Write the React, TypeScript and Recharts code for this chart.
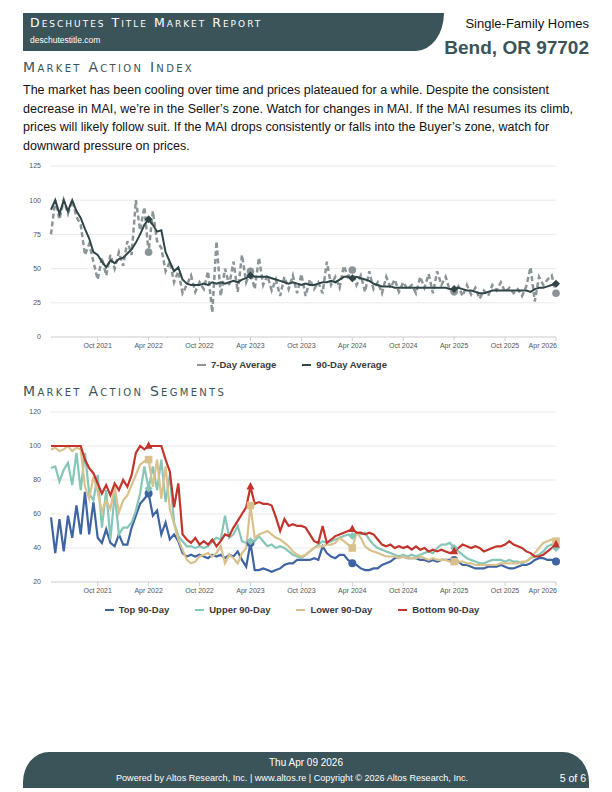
import React from 'react';
import { LineChart, Line, XAxis, YAxis, CartesianGrid } from 'recharts';

// Time axis: months after Apr 1 2021, one point every half month
const START = 0.5;
const STEP = 0.5;

const tickMonths = [6, 12, 18, 24, 30, 36, 42, 48, 54, 60];
const tickLabels = ['Oct 2021', 'Apr 2022', 'Oct 2022', 'Apr 2023', 'Oct 2023', 'Apr 2024', 'Oct 2024', 'Apr 2025', 'Oct 2025', 'Apr 2026'];
const markerIdx = [23, 47, 71, 95, 119];

const maiTicks = [0, 25, 50, 75, 100, 125];
const segTicks = [20, 40, 60, 80, 100, 120];

// Market Action Index
const sevenDay = [
  75, 100, 86, 100, 90, 100, 88, 82, 60, 68, 55, 42, 58, 45, 60, 50, 62, 52, 70, 60,
  100, 78, 95, 62, 92, 70, 65, 48, 55, 40, 48, 32, 38, 45, 33, 40, 35, 48, 18, 70,
  30, 50, 38, 55, 33, 60, 40, 48, 35, 58, 38, 45, 34, 42, 30, 44, 35, 45, 32, 46,
  30, 42, 35, 40, 32, 55, 38, 44, 36, 52, 44, 49, 38, 45, 33, 48, 35, 40, 32, 44,
  36, 42, 33, 40, 35, 38, 32, 44, 36, 46, 32, 48, 38, 44, 34, 33, 37, 30, 38, 31,
  36, 28, 34, 30, 38, 34, 40, 33, 36, 32, 35, 30, 37, 51, 26, 44, 38, 42, 45, 32,
];
const ninetyDay = [
  93, 100, 90, 100, 92, 100, 92, 87, 79, 72, 62, 60, 55, 51, 56, 54, 57, 58, 61, 64,
  69, 75, 82, 86, 82, 77, 78, 62, 55, 48, 51, 42, 39, 38, 38, 38, 39, 38, 40, 39,
  40, 39, 40, 41, 40, 42, 43, 45, 44, 44, 44, 44, 43, 42, 41, 40, 39, 40, 39, 38,
  39, 38, 38, 39, 40, 40, 41, 40, 42, 44, 44, 43, 44, 43, 42, 41, 39, 38, 37, 37,
  37, 36, 36, 36, 36, 36, 36, 36, 36, 36, 36, 36, 36, 36, 35, 35, 36, 35, 34, 34,
  33, 32, 32, 33, 34, 34, 34, 34, 34, 34, 34, 34, 34, 33, 35, 36, 36, 37, 38, 39,
];

// Market Action Segments
const top90 = [
  58, 37, 57, 38, 59, 46, 65, 48, 73, 48, 67, 46, 43, 51, 43, 41, 48, 42, 42, 52,
  59, 66, 69, 72, 59, 62, 48, 55, 45, 48, 44, 37, 35, 36, 35, 36, 35, 34, 36, 35,
  36, 34, 36, 35, 38, 33, 29, 43, 27, 27, 28, 27, 26, 27, 28, 30, 31, 31, 33, 33,
  33, 33, 34, 33, 41, 37, 35, 34, 36, 36, 33, 31, 30, 28, 27, 27, 28, 28, 30, 31,
  32, 34, 35, 35, 34, 34, 34, 33, 33, 32, 33, 32, 33, 33, 33, 33, 32, 30, 30, 29,
  28, 28, 28, 29, 29, 29, 30, 29, 28, 28, 29, 30, 30, 31, 33, 34, 34, 33, 33, 32,
];
const upper90 = [
  87, 88, 79, 86, 90, 77, 96, 74, 96, 72, 68, 83, 52, 74, 45, 72, 48, 52, 52, 55,
  62, 72, 88, 75, 88, 74, 92, 67, 83, 55, 47, 44, 41, 41, 40, 41, 40, 41, 44, 46,
  45, 59, 46, 48, 53, 44, 43, 44, 44, 47, 44, 41, 42, 40, 41, 40, 38, 36, 35, 34,
  36, 38, 40, 42, 44, 43, 44, 45, 46, 47, 48, 47, 49, 48, 49, 45, 42, 40, 39, 38,
  37, 36, 35, 36, 35, 36, 35, 36, 37, 38, 37, 40, 42, 42, 43, 40, 38, 36, 34, 33,
  32, 31, 31, 32, 33, 33, 33, 32, 33, 32, 32, 31, 32, 34, 35, 36, 38, 41, 42, 40,
];
const lower90 = [
  98, 99, 97, 98, 100, 97, 99, 98, 76, 69, 82, 73, 61, 68, 63, 76, 61, 68, 71, 77,
  83, 89, 91, 92, 76, 92, 69, 88, 63, 54, 45, 39, 33, 31, 32, 35, 36, 37, 35, 37,
  41, 31, 36, 34, 31, 37, 40, 65, 46, 48, 49, 50, 48, 46, 45, 43, 41, 38, 36, 35,
  36, 38, 40, 41, 41, 42, 42, 43, 46, 44, 42, 40, 49, 46, 41, 39, 38, 37, 36, 35,
  35, 35, 34, 35, 34, 34, 34, 35, 34, 33, 34, 33, 33, 33, 32, 32, 32, 32, 31, 31,
  30, 30, 30, 30, 30, 30, 31, 31, 31, 31, 31, 32, 32, 34, 37, 40, 43, 44, 45, 44,
];
const bottom90 = [
  100, 100, 100, 100, 100, 100, 100, 100, 92, 87, 84, 78, 72, 77, 71, 78, 74, 80, 76, 83,
  96, 100, 98, 100, 100, 100, 100, 92, 85, 64, 78, 48, 45, 43, 46, 42, 44, 42, 45, 41,
  44, 48, 47, 52, 56, 60, 64, 76, 66, 67, 66, 66, 65, 58, 50, 57, 53, 54, 53, 53,
  52, 48, 44, 43, 53, 43, 45, 47, 48, 49, 50, 51, 49, 49, 48, 49, 48, 45, 42, 41,
  42, 40, 41, 40, 41, 39, 41, 39, 40, 38, 39, 38, 39, 38, 37, 38, 40, 42, 41, 40,
  41, 40, 38, 39, 40, 41, 41, 42, 44, 42, 41, 40, 38, 37, 35, 35, 36, 38, 40, 42,
];

const maiData = sevenDay.map((v, i) => ({ m: START + i * STEP, seven: v, ninety: ninetyDay[i] }));
const segData = top90.map((v, i) => ({
  m: START + i * STEP,
  top: v,
  upper: upper90[i],
  lower: lower90[i],
  bottom: bottom90[i],
}));

const TEAL = '#3b545a';
const C_SEVEN = '#8b9597';
const C_NINETY = '#2f4548';
const C_TOP = '#3f64a3';
const C_UPPER = '#86c6b9';
const C_LOWER = '#d9c18d';
const C_BOTTOM = '#c3342c';

const XTick = (props: any) => {
  const { x, y, payload, index } = props;
  const last = index === tickMonths.length - 1;
  return (
    <text
      x={last ? x + 1 : x}
      y={y}
      dy="0.71em"
      textAnchor={last ? 'end' : 'middle'}
      fontSize={7}
      fill="#555"
      fontFamily="Liberation Sans, Arial, sans-serif"
    >
      {tickLabels[tickMonths.indexOf(payload.value)]}
    </text>
  );
};

type Shape = 'circle' | 'diamond' | 'square' | 'triangle';

const markerDot = (shape: Shape, color: string, size: number) => (props: any) => {
  const { cx, cy, index } = props;
  if (!markerIdx.includes(index) || cx == null || cy == null) return <g key={`n${index}`} />;
  const s = size;
  if (shape === 'circle') return <circle key={`c${index}`} cx={cx} cy={cy} r={s} fill={color} />;
  if (shape === 'square')
    return <rect key={`s${index}`} x={cx - s} y={cy - s} width={s * 2} height={s * 2} fill={color} />;
  if (shape === 'triangle')
    return (
      <polygon
        key={`t${index}`}
        points={`${cx},${cy - s * 1.2} ${cx + s},${cy + s * 0.7} ${cx - s},${cy + s * 0.7}`}
        fill={color}
      />
    );
  return (
    <polygon
      key={`d${index}`}
      points={`${cx},${cy - s} ${cx + s},${cy} ${cx},${cy + s} ${cx - s},${cy}`}
      fill={color}
    />
  );
};

const xAxisProps = {
  dataKey: 'm',
  type: 'number' as const,
  domain: [0.5, 60],
  ticks: tickMonths,
  tick: <XTick />,
  tickLine: { stroke: '#cfcfcf' },
  tickSize: 4,
  axisLine: { stroke: '#d6d6d6' },
  height: 20,
  interval: 0 as const,
};

const yTick = { fontSize: 7, fill: '#555', fontFamily: 'Liberation Sans, Arial, sans-serif' };

const smallCaps: React.CSSProperties = {
  fontFamily: 'DejaVu Sans, sans-serif',
  fontVariant: 'small-caps',
  whiteSpace: 'nowrap',
};

const LegendRow = ({ items, top }: { items: { label: string; color: string }[]; top: number }) => (
  <div
    style={{
      position: 'absolute',
      top,
      left: 0,
      width: 584,
      display: 'flex',
      justifyContent: 'center',
      gap: 26,
      fontSize: 9.5,
      fontWeight: 'bold',
      color: '#3a3a3a',
    }}
  >
    {items.map((it) => (
      <div key={it.label} style={{ display: 'flex', alignItems: 'center' }}>
        <span style={{ display: 'inline-block', width: 9, height: 2, background: it.color, marginRight: 5 }} />
        {it.label}
      </div>
    ))}
  </div>
);

export default function App() {
  const paraLines = [
    'The market has been cooling over time and prices plateaued for a while. Despite the consistent',
    'decrease in MAI, we\u2019re in the Seller\u2019s zone. Watch for changes in MAI. If the MAI resumes its climb,',
    'prices will likely follow suit. If the MAI drops consistently or falls into the Buyer\u2019s zone, watch for',
    'downward pressure on prices.',
  ];
  return (
    <div
      style={{
        position: 'absolute',
        top: 0,
        left: 0,
        width: 612,
        height: 792,
        background: '#fff',
        fontFamily: 'Liberation Sans, Arial, sans-serif',
        overflow: 'hidden',
      }}
    >
      {/* header banner */}
      <div
        style={{
          position: 'absolute',
          top: 13,
          left: 23,
          width: 421,
          height: 38,
          background: TEAL,
          borderBottomRightRadius: '28px 38px',
        }}
      />
      <div style={{ ...smallCaps, position: 'absolute', top: 15, left: 30, color: '#fff', fontSize: 12.5, letterSpacing: '2px' }}>
        Deschutes Title Market Report
      </div>
      <div style={{ position: 'absolute', top: 35, left: 30, color: '#fff', fontSize: 8.5 }}>deschutestitle.com</div>
      <div style={{ position: 'absolute', top: 16, right: 23, fontSize: 13, color: '#111' }}>Single-Family Homes</div>
      <div style={{ position: 'absolute', top: 37, right: 23, fontSize: 19, fontWeight: 'bold', color: TEAL }}>
        Bend, OR 97702
      </div>

      <div style={{ ...smallCaps, position: 'absolute', top: 59, left: 23, color: TEAL, fontSize: 14, letterSpacing: '2.3px' }}>
        Market Action Index
      </div>
      <div style={{ position: 'absolute', top: 81, left: 23, fontSize: 12.5, lineHeight: '18.7px', color: '#111' }}>
        {paraLines.map((l) => (
          <div key={l} style={{ whiteSpace: 'nowrap' }}>
            {l}
          </div>
        ))}
      </div>

      {/* Market Action Index chart */}
      <div style={{ position: 'absolute', top: 150, left: 0 }}>
        <LineChart width={612} height={207} data={maiData} margin={{ top: 16, right: 56, left: 1, bottom: 0 }}>
          <CartesianGrid vertical={false} stroke="#e9e9e9" />
          <XAxis {...xAxisProps} />
          <YAxis
            domain={[0, 125]}
            ticks={maiTicks}
            width={50}
            axisLine={false}
            tickLine={false}
            tickMargin={4}
            tick={yTick}
            interval={0}
          />
          <Line
            dataKey="seven"
            stroke={C_SEVEN}
            strokeWidth={2.5}
            strokeDasharray="5 3"
            dot={markerDot('circle', C_SEVEN, 3.8)}
            activeDot={false}
            isAnimationActive={false}
          />
          <Line
            dataKey="ninety"
            stroke={C_NINETY}
            strokeWidth={2}
            dot={markerDot('diamond', C_NINETY, 4)}
            activeDot={false}
            isAnimationActive={false}
          />
        </LineChart>
      </div>
      <LegendRow
        top={359}
        items={[
          { label: '7-Day Average', color: C_SEVEN },
          { label: '90-Day Average', color: C_NINETY },
        ]}
      />

      <div style={{ ...smallCaps, position: 'absolute', top: 383, left: 23, color: TEAL, fontSize: 14, letterSpacing: '2.3px' }}>
        Market Action Segments
      </div>

      {/* Market Action Segments chart */}
      <div style={{ position: 'absolute', top: 396, left: 0 }}>
        <LineChart width={612} height={206} data={segData} margin={{ top: 16, right: 56, left: 1, bottom: 0 }}>
          <CartesianGrid vertical={false} stroke="#e9e9e9" />
          <XAxis {...xAxisProps} />
          <YAxis
            domain={[20, 120]}
            ticks={segTicks}
            width={50}
            axisLine={false}
            tickLine={false}
            tickMargin={4}
            tick={yTick}
            interval={0}
          />
          <Line dataKey="top" stroke={C_TOP} strokeWidth={2.2} dot={markerDot('circle', C_TOP, 4)} activeDot={false} isAnimationActive={false} />
          <Line dataKey="upper" stroke={C_UPPER} strokeWidth={2.2} dot={markerDot('diamond', C_UPPER, 4)} activeDot={false} isAnimationActive={false} />
          <Line dataKey="lower" stroke={C_LOWER} strokeWidth={2.2} dot={markerDot('square', C_LOWER, 3.8)} activeDot={false} isAnimationActive={false} />
          <Line dataKey="bottom" stroke={C_BOTTOM} strokeWidth={2.2} dot={markerDot('triangle', C_BOTTOM, 4)} activeDot={false} isAnimationActive={false} />
        </LineChart>
      </div>
      <LegendRow
        top={604}
        items={[
          { label: 'Top 90-Day', color: C_TOP },
          { label: 'Upper 90-Day', color: C_UPPER },
          { label: 'Lower 90-Day', color: C_LOWER },
          { label: 'Bottom 90-Day', color: C_BOTTOM },
        ]}
      />

      {/* footer */}
      <div
        style={{
          position: 'absolute',
          top: 752,
          left: 23,
          width: 566,
          height: 36,
          background: TEAL,
          borderTopLeftRadius: '26px 30px',
          borderTopRightRadius: '26px 30px',
        }}
      />
      <div style={{ position: 'absolute', top: 757, left: 23, width: 566, textAlign: 'center', color: '#fff', fontSize: 10 }}>
        Thu Apr 09 2026
      </div>
      <div style={{ position: 'absolute', top: 773, left: 0, width: 584, textAlign: 'center', color: '#fff', fontSize: 9.1 }}>
        Powered by Altos Research, Inc. | www.altos.re | Copyright © 2026 Altos Research, Inc.
      </div>
      <div style={{ position: 'absolute', top: 772, right: 26, color: '#fff', fontSize: 10.5 }}>5 of 6</div>
    </div>
  );
}
